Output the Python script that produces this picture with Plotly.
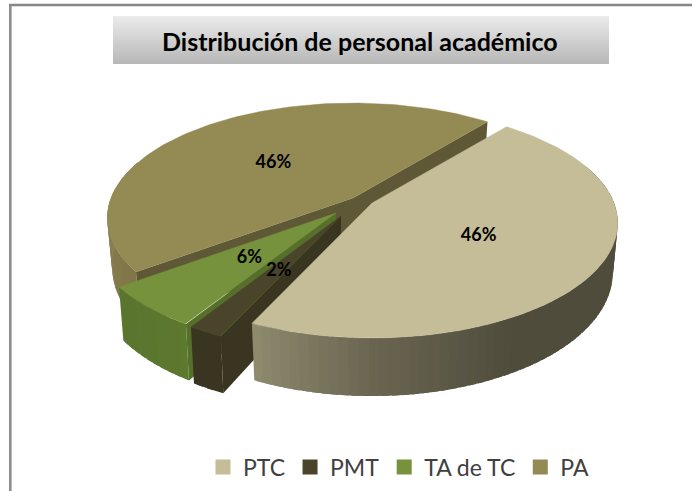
import numpy as np
import plotly.graph_objects as go

# ---- data ----
categories = ["PTC", "PMT", "TA de TC", "PA"]
values = [46, 2, 6, 46]
top_colors = ["#c4bd97", "#4a452a", "#76923c", "#948a54"]
cut_colors = ["#8e8a6c", "#3a3520", "#56702b", "#5f5836"]
title_text = "Distribución de personal académico"

# ---- drawing geometry (pixel space of the page) ----
W, H = 692, 491
START = 39.1          # first slice start, degrees clockwise from north
A, B, K = 242.0, 111.5, 0.174
DEPTH = 48.0
BOTTOM_X = 0.98
LABEL_DX, LABEL_DY = -1, 3
apexes = [(372, 203), (341, 216), (336, 213), (353, 198)]
label_apexes = [(372, 203), (342, 215), (338, 212), (353, 198)]
WALL_FROM, WALL_TO = 70.0, 290.0
# wall shading: (angle, colour)
wall_stops = [
    ([39, 150, 180, 205], [(0x50, 0x4c, 0x3c), (0x50, 0x4c, 0x3c), (0x6a, 0x66, 0x52), (0x90, 0x8c, 0x6e)]),
    ([204, 212], [(0x3a, 0x35, 0x20), (0x3a, 0x35, 0x20)]),
    ([210, 232], [(0x5e, 0x7a, 0x2f), (0x5a, 0x75, 0x2e)]),
    ([231, 270, 400], [(0x7f, 0x75, 0x45), (0x8c, 0x81, 0x57), (0x8c, 0x81, 0x57)]),
]


def project(apex, theta, r=1.0, lower=False):
    t = np.radians(theta)
    X, Y = r * np.sin(t), -r * np.cos(t)
    w = 1 - K * Y
    x, y = A * X / w, B * Y / w
    if lower:
        x = x * BOTTOM_X
        y = y + DEPTH / w
    return apex[0] + x, apex[1] + y


def hexcol(stops, a):
    ang, cols = stops
    rgb = [int(np.interp(a, ang, [c[i] for c in cols])) for i in range(3)]
    return "rgb(%d,%d,%d)" % tuple(rgb)


def poly(fig, xs, ys, color, lw=0.0):
    fig.add_trace(go.Scatter(x=list(xs), y=list(ys), mode="lines", fill="toself",
                             fillcolor=color, line=dict(color=color, width=lw),
                             hoverinfo="skip", showlegend=False))


fig = go.Figure()
bounds = START + np.concatenate([[0], np.cumsum(values)]) * 3.6

# painter's order: PA, TA de TC, PMT, PTC
labels = []
for i in [3, 2, 1, 0]:
    a0, a1 = bounds[i], bounds[i + 1]
    apex = apexes[i]
    # outer wall as overlapping thin quads, only the side facing the viewer
    w0, w1 = max(a0, WALL_FROM), min(a1, WALL_TO)
    edges = np.linspace(w0, w1, max(3, int((w1 - w0) / 2.0)) + 1)
    for u, v in zip(edges[:-1], edges[1:]):
        arc = np.linspace(u, min(v + 1.5, w1), 6)
        px, py = project(apex, arc)
        qx, qy = project(apex, arc[::-1], lower=True)
        poly(fig, np.r_[px, qx, px[0]], np.r_[py, qy, py[0]], hexcol(wall_stops[i], (u + v) / 2))
    # cut faces that turn toward the viewer
    for a, visible in ((a0, np.sin(np.radians(a0)) < 0), (a1, np.sin(np.radians(a1)) > 0)):
        if visible:
            p = project(apex, a)
            q = project(apex, a, lower=True)
            c = project(apex, a, 0.0)
            d = project(apex, a, 0.0, lower=True)
            poly(fig, [c[0], p[0], q[0], d[0], c[0]], [c[1], p[1], q[1], d[1], c[1]], cut_colors[i])
    # top face
    th = np.linspace(a0, a1, 120)
    rx, ry = project(apex, th)
    poly(fig, np.r_[apex[0], rx, apex[0]], np.r_[apex[1], ry, apex[1]], top_colors[i], 0.4)
    labels.append((project(label_apexes[i], (a0 + a1) / 2, 0.5), values[i]))

for (lx, ly), val in labels:
    fig.add_trace(go.Scatter(x=[lx + LABEL_DX], y=[ly + LABEL_DY], mode="text", text=["%d%%" % val],
                             textfont=dict(family="Lato", size=18, color="#000000", weight="bold"),
                             hoverinfo="skip", showlegend=False))

for name, col in zip(categories, top_colors):
    fig.add_trace(go.Scatter(x=[None], y=[None], mode="markers", name=name,
                             marker=dict(symbol="square", size=15, color=col)))

shapes = []
bx0, bx1, by0, by1 = 113, 609, 16, 64
for k in range(by0, by1):
    f = (k - by0) / (by1 - by0 - 1)
    g = int(235 + (184 - 235) * f)
    shapes.append(dict(type="rect", x0=bx0, x1=bx1, y0=k, y1=k + 1, layer="below",
                       line=dict(width=0), fillcolor="rgb(%d,%d,%d)" % (g, g, g)))
shapes.append(dict(type="line", x0=9, x1=W, y0=5, y1=5, layer="below",
                   line=dict(color="#868686", width=2.5)))
shapes.append(dict(type="line", x0=10.3, x1=10.3, y0=4, y1=H, layer="below",
                   line=dict(color="#8c8c8c", width=2.6)))

fig.update_layout(
    width=W, height=H, autosize=False,
    margin=dict(l=0, r=0, t=0, b=0),
    paper_bgcolor="white", plot_bgcolor="white",
    xaxis=dict(range=[0, W], visible=False, fixedrange=True),
    yaxis=dict(range=[H, 0], visible=False, fixedrange=True),
    shapes=shapes,
    annotations=[dict(x=360, y=41, xref="x", yref="y", text="<b>%s</b>" % title_text, showarrow=False,
                      font=dict(family="Lato", size=25, color="#000000"))],
    legend=dict(orientation="h", x=203 / W, xref="paper", y=1 - 467 / H, yanchor="middle", xanchor="left",
                font=dict(family="Lato", size=23, color="#404040"), bgcolor="rgba(0,0,0,0)",
                itemclick=False, itemdoubleclick=False),
    showlegend=True,
)
fig.write_html("out.html", config={"displayModeBar": False},
               post_script="document.body.style.margin='0';document.body.style.overflow='hidden';")
